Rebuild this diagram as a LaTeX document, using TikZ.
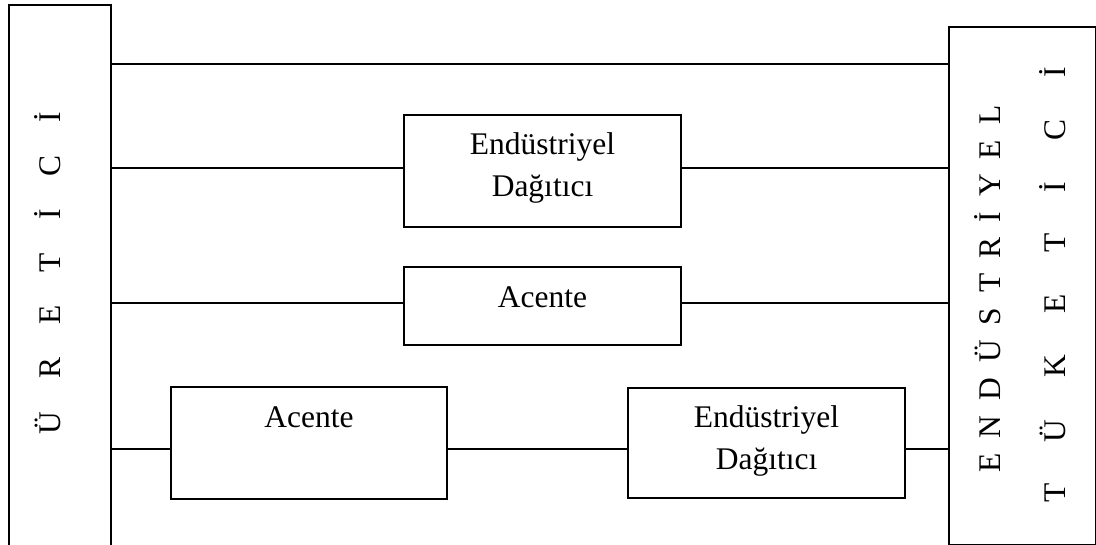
\documentclass[tikz,border=0pt]{standalone}
\usepackage{fontspec}
\setmainfont{Liberation Serif}
\newcommand{\spaced}[2]{\spaceskip=#1\relax #2}
\begin{document}
\begin{tikzpicture}[x=1pt,y=-1pt,
  frame/.style={draw, line width=1.8pt, inner sep=0pt},
  link/.style={line width=1.7pt},
  txt/.style={font=\fontsize{31.5}{42}\selectfont, align=center, inner sep=0pt, anchor=north},
  side/.style={rotate=90, anchor=base, inner sep=0pt, font=\fontsize{31.5}{42}\selectfont}]
\useasboundingbox (0,0) rectangle (1096,545);

% producer and consumer columns
\node[frame, minimum width=102pt, minimum height=541pt] (uretici) at (60,275.5) {};
\node[frame, minimum width=147pt, minimum height=518pt] (tuketici) at (1022.5,286) {};
\node[side] (ureticiT) at (60,273) {\spaced{33pt}{Ü R E T İ C İ}};
\node[side] (endT) at (1000,289) {\spaced{15pt}{E N D Ü S T R İ Y E L}};
\node[side] (tukT) at (1065,285) {\spaced{41.5pt}{T Ü K E T İ C İ}};

% intermediaries
\node[frame, minimum width=277pt, minimum height=112pt] (ed1) at (542.5,171) {};
\node[frame, minimum width=277pt, minimum height=78pt] (ac1) at (542.5,306) {};
\node[frame, minimum width=276pt, minimum height=112pt] (ac2) at (309,443) {};
\node[frame, minimum width=277pt, minimum height=110pt] (ed2) at (766.5,443) {};

\node[txt] (ed1T) at ([yshift=-11pt]ed1.north) {\strut Endüstriyel\\Dağıtıcı};
\node[txt] (ac1T) at ([yshift=-11.5pt]ac1.north) {\strut Acente};
\node[txt] (ac2T) at ([yshift=-11.5pt]ac2.north) {\strut Acente};
\node[txt] (ed2T) at ([yshift=-11pt]ed2.north) {\strut Endüstriyel\\Dağıtıcı};

% channel rows
\coordinate (r1) at (0,64);
\coordinate (r2) at (0,168);
\coordinate (r3) at (0,303);
\coordinate (r4) at (0,449);

\draw[link] (uretici.east |- r1) -- (tuketici.west |- r1);
\draw[link] (uretici.east |- r2) -- (ed1.west |- r2);
\draw[link] (ed1.east |- r2) -- (tuketici.west |- r2);
\draw[link] (uretici.east |- r3) -- (ac1.west |- r3);
\draw[link] (ac1.east |- r3) -- (tuketici.west |- r3);
\draw[link] (uretici.east |- r4) -- (ac2.west |- r4);
\draw[link] (ac2.east |- r4) -- (ed2.west |- r4);
\draw[link] (ed2.east |- r4) -- (tuketici.west |- r4);
\end{tikzpicture}
\end{document}
